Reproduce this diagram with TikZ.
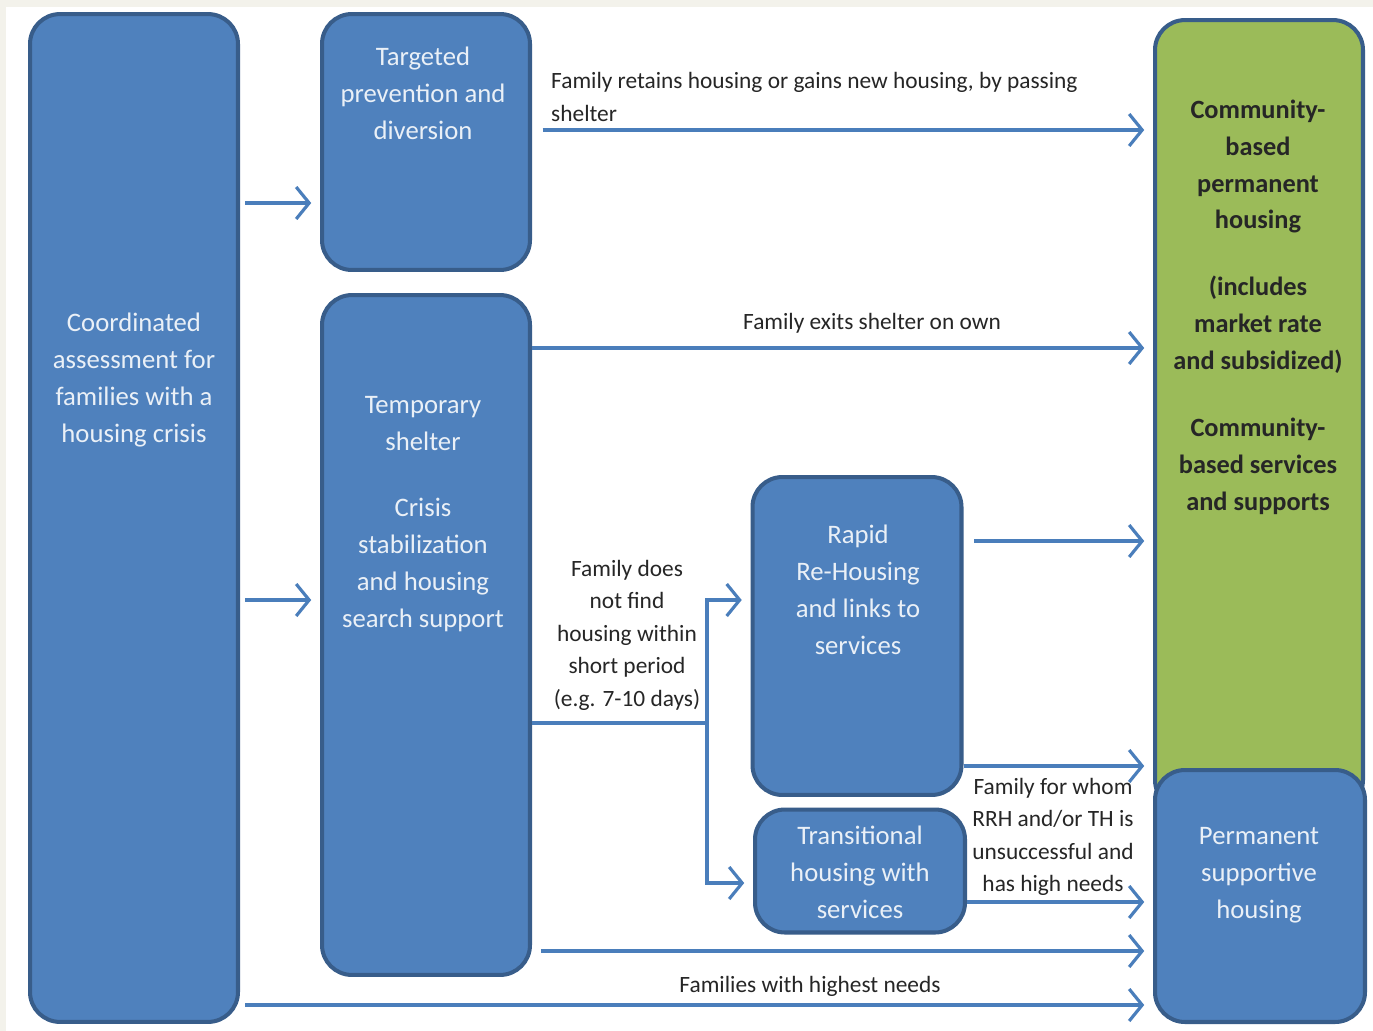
\documentclass[tikz,border=0pt]{standalone}
\usepackage{fontspec}
\setmainfont{Carlito}
\usetikzlibrary{positioning,arrows.meta}
\definecolor{BoxBlue}{RGB}{79,129,189}
\definecolor{EdgeBlue}{RGB}{56,93,138}
\definecolor{LineBlue}{RGB}{74,126,187}
\definecolor{HousingGreen}{RGB}{155,187,89}
\definecolor{PageBeige}{RGB}{243,242,235}
\tikzset{
  flow/.style={-{Straight Barb[length=2.6mm,width=6.4mm]},line width=1.8pt,draw=LineBlue,shorten >=5pt},
  plain/.style={line width=1.8pt,draw=LineBlue},
  box/.style={draw=EdgeBlue,fill=BoxBlue,line width=2.3pt,rounded corners=17pt,inner sep=0pt},
  greenbox/.style={box,fill=HousingGreen},
  boxtext/.style={text=white!88!BoxBlue,align=center,font=\fontsize{15.2}{21}\selectfont},
  greentext/.style={text=black!85,align=center,font=\fontsize{15}{21}\selectfont\bfseries},
  note/.style={text=black!85,align=center,font=\fontsize{13.3}{18.5}\selectfont}
}

\begin{document}
\begin{tikzpicture}[x=0.02cm,y=-0.02cm]
  \useasboundingbox (0,0) rectangle (1373,1031);
  \fill[PageBeige] (0,0) rectangle (1373,1031);
  \fill[white] (6,7) rectangle (1373,1031);

  % boxes
  \node[box,minimum width=4.16cm,minimum height=20.16cm] (coord) at (134,518) {};
  \node[box,minimum width=4.16cm,minimum height=5.12cm] (tgt) at (426,142) {};
  \node[box,minimum width=4.16cm,minimum height=13.6cm] (temp) at (426,635) {};
  \node[box,minimum width=4.18cm,minimum height=6.36cm] (rrh) at (857,636) {};
  \node[box,minimum width=4.2cm,minimum height=2.46cm] (th) at (860,871) {};
  \node[greenbox,minimum width=4.16cm,minimum height=15.8cm] (green) at (1259,415) {};
  \node[box,minimum width=4.2cm,minimum height=5.04cm] (psh) at (1260,896) {};

  % box texts
  \node[boxtext] (coordtxt) at (134,380) {Coordinated\\assessment for\\families with a\\housing crisis};
  \node[boxtext] (tgttxt) at (423,93) {Targeted\\prevention and\\diversion};
  \node[boxtext] (temptxt) at (423,514) {Temporary\\shelter\\[17pt]Crisis\\stabilization\\and housing\\search support};
  \node[boxtext] (rrhtxt) at (858,590) {Rapid\\Re-Housing\\and links to\\services};
  \node[boxtext] (thtxt) at (860,872) {Transitional\\housing with\\services};
  \node[greentext] (greentxt) at (1258,307) {Community-\\based\\permanent\\housing\\[17pt](includes\\market rate\\and subsidized)\\[17pt]Community-\\based services\\and supports};
  \node[boxtext] (pshtxt) at (1259,875) {Permanent\\supportive\\housing};

  % connectors
  \draw[flow,shorten <=3pt] (coord.east |- 0,203) -- (tgt.west |- 0,203);
  \draw[flow,shorten <=3pt] (coord.east |- 0,600) -- (temp.west |- 0,600);
  \draw[flow,shorten <=6pt] (tgt.east |- 0,130) -- (green.west |- 0,130);
  \draw[flow] (temp.east |- 0,348) -- (green.west |- 0,348);
  \coordinate (fork) at (707,723);
  \draw[plain] (temp.east |- fork) -- (fork);
  \draw[flow] (fork) |- (rrh.west |- 0,600);
  \draw[flow] (fork) |- (th.west |- 0,883);
  \draw[flow,shorten <=6pt] (rrh.east |- 0,541) -- (green.west |- 0,541);
  \draw[flow] (rrh.east |- 0,766) -- (green.west |- 0,766);
  \draw[flow] (th.east |- 0,902) -- (psh.west |- 0,902);
  \draw[flow,shorten <=5pt] (temp.east |- 0,951) -- (psh.west |- 0,951);
  \draw[flow,shorten <=3pt] (coord.east |- 0,1005) -- (psh.west |- 0,1005);

  % connector labels
  \node[note,align=left,anchor=west] (retains) at (545,97) {Family retains housing or gains new housing, by passing\\shelter};
  \node[note] (exits) at (872,323) {Family exits shelter on own};
  \node[note] (notfind) at (627,635) {Family does\\not find\\housing within\\short period\\(e.g. 7-10 days)};
  \node[note] (forwhom) at (1053,837) {Family for whom\\RRH and/or TH is\\unsuccessful and\\has high needs};
  \node[note] (highest) at (810,986) {Families with highest needs};
\end{tikzpicture}
\end{document}
